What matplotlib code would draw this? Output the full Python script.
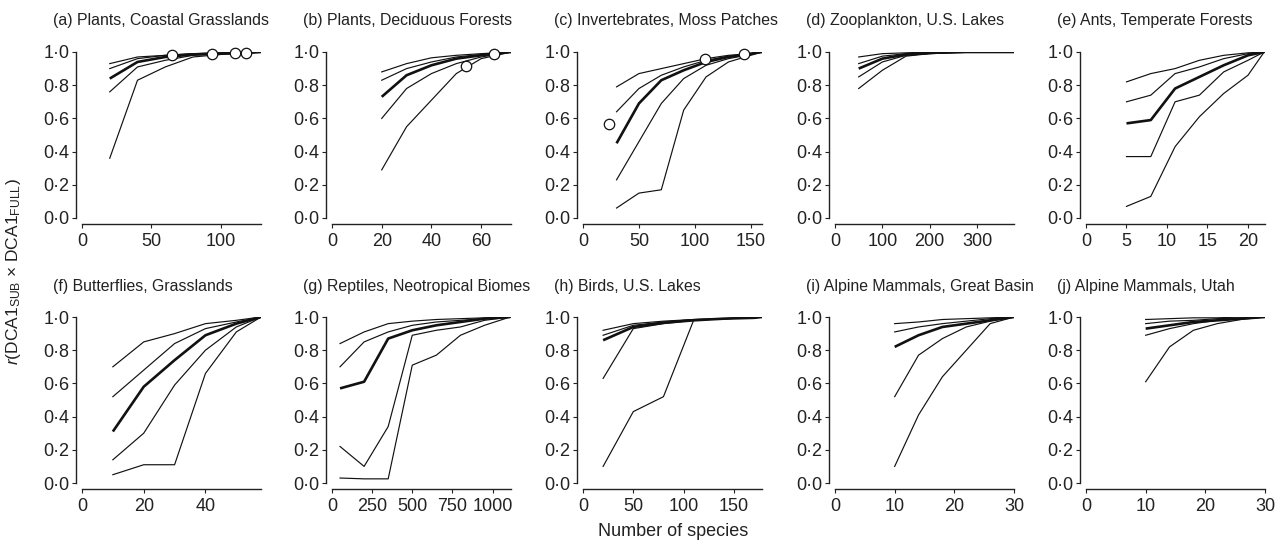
import matplotlib
matplotlib.use('Agg')
import matplotlib.pyplot as plt
from matplotlib.ticker import FuncFormatter

plt.rcParams['font.family'] = ['Liberation Sans', 'DejaVu Sans']
plt.rcParams['mathtext.fontset'] = 'custom'
plt.rcParams['mathtext.rm'] = 'Liberation Sans'
plt.rcParams['mathtext.it'] = 'Liberation Sans:italic'

# data: x = number of species in subsample, five lines per panel (thick one is the 3rd)
a_x = [20, 40, 60, 80, 100, 120, 129]
a_lines = [[0.93, 0.97, 0.98, 0.99, 0.995, 1.0, 1.0],
           [0.90, 0.96, 0.98, 0.99, 0.995, 1.0, 1.0],
           [0.84, 0.94, 0.97, 0.985, 0.99, 0.995, 1.0],
           [0.76, 0.91, 0.95, 0.98, 0.99, 0.995, 1.0],
           [0.36, 0.83, 0.91, 0.97, 0.985, 0.995, 1.0]]
a_px = [65, 94, 110, 118]
a_py = [0.98, 0.99, 0.995, 0.995]

b_x = [20, 30, 40, 50, 60, 72]
b_lines = [[0.88, 0.93, 0.965, 0.98, 0.99, 1.0],
           [0.83, 0.90, 0.94, 0.97, 0.985, 1.0],
           [0.73, 0.86, 0.92, 0.96, 0.98, 1.0],
           [0.60, 0.78, 0.87, 0.93, 0.97, 1.0],
           [0.29, 0.55, 0.71, 0.87, 0.96, 1.0]]
b_px = [54, 65]
b_py = [0.915, 0.985]

c_x = [30, 50, 70, 90, 110, 130, 150, 160]
c_lines = [[0.79, 0.87, 0.90, 0.93, 0.96, 0.98, 0.99, 1.0],
           [0.64, 0.78, 0.86, 0.91, 0.95, 0.975, 0.99, 1.0],
           [0.45, 0.69, 0.83, 0.89, 0.94, 0.97, 0.99, 1.0],
           [0.23, 0.46, 0.69, 0.84, 0.92, 0.96, 0.985, 1.0],
           [0.06, 0.15, 0.17, 0.65, 0.85, 0.94, 0.98, 1.0]]
c_px = [23, 109, 144]
c_py = [0.565, 0.96, 0.99]

d_x = [50, 100, 150, 200, 250, 300, 350, 378]
d_lines = [[0.97, 0.99, 0.995, 1.0, 1.0, 1.0, 1.0, 1.0],
           [0.93, 0.975, 0.99, 0.995, 1.0, 1.0, 1.0, 1.0],
           [0.90, 0.96, 0.985, 0.995, 1.0, 1.0, 1.0, 1.0],
           [0.85, 0.94, 0.98, 0.99, 0.995, 1.0, 1.0, 1.0],
           [0.78, 0.89, 0.975, 0.99, 0.995, 1.0, 1.0, 1.0]]

e_x = [5, 8, 11, 14, 17, 20, 22]
e_lines = [[0.82, 0.87, 0.90, 0.95, 0.98, 0.995, 1.0],
           [0.70, 0.74, 0.87, 0.91, 0.96, 0.99, 1.0],
           [0.57, 0.59, 0.78, 0.85, 0.92, 0.98, 1.0],
           [0.37, 0.37, 0.70, 0.74, 0.88, 0.95, 1.0],
           [0.07, 0.13, 0.43, 0.61, 0.75, 0.86, 1.0]]

f_x = [10, 20, 30, 40, 50, 58]
f_lines = [[0.70, 0.85, 0.90, 0.96, 0.98, 1.0],
           [0.52, 0.68, 0.84, 0.93, 0.97, 1.0],
           [0.31, 0.58, 0.74, 0.89, 0.96, 1.0],
           [0.14, 0.30, 0.59, 0.80, 0.94, 1.0],
           [0.05, 0.11, 0.11, 0.66, 0.91, 1.0]]

g_x = [50, 200, 350, 500, 650, 800, 950, 1110]
g_lines = [[0.84, 0.91, 0.96, 0.975, 0.985, 0.99, 0.995, 1.0],
           [0.70, 0.85, 0.91, 0.95, 0.97, 0.98, 0.99, 1.0],
           [0.57, 0.61, 0.87, 0.92, 0.95, 0.97, 0.99, 1.0],
           [0.22, 0.10, 0.34, 0.89, 0.92, 0.94, 0.98, 1.0],
           [0.03, 0.025, 0.025, 0.71, 0.77, 0.89, 0.95, 1.0]]

h_x = [20, 50, 80, 110, 140, 170, 178]
h_lines = [[0.92, 0.96, 0.975, 0.985, 0.99, 0.995, 1.0],
           [0.89, 0.95, 0.97, 0.985, 0.99, 0.995, 1.0],
           [0.86, 0.94, 0.965, 0.98, 0.99, 0.995, 1.0],
           [0.63, 0.93, 0.96, 0.98, 0.99, 0.995, 1.0],
           [0.10, 0.43, 0.52, 0.98, 0.99, 0.995, 1.0]]

i_x = [10, 14, 18, 22, 26, 30]
i_lines = [[0.96, 0.97, 0.985, 0.99, 0.995, 1.0],
           [0.91, 0.94, 0.96, 0.975, 0.99, 1.0],
           [0.82, 0.89, 0.94, 0.96, 0.98, 1.0],
           [0.52, 0.77, 0.87, 0.94, 0.975, 1.0],
           [0.10, 0.41, 0.64, 0.80, 0.96, 1.0]]

j_x = [10, 14, 18, 22, 26, 30]
j_lines = [[0.985, 0.99, 0.995, 0.995, 1.0, 1.0],
           [0.96, 0.975, 0.98, 0.99, 0.995, 1.0],
           [0.93, 0.95, 0.97, 0.98, 0.99, 1.0],
           [0.89, 0.93, 0.96, 0.98, 0.99, 1.0],
           [0.61, 0.82, 0.92, 0.96, 0.985, 1.0]]

titles = ['(a) Plants, Coastal Grasslands', '(b) Plants, Deciduous Forests',
          '(c) Invertebrates, Moss Patches', '(d) Zooplankton, U.S. Lakes',
          '(e) Ants, Temperate Forests', '(f) Butterflies, Grasslands',
          '(g) Reptiles, Neotropical Biomes', '(h) Birds, U.S. Lakes',
          '(i) Alpine Mammals, Great Basin', '(j) Alpine Mammals, Utah']
xmaxs = [129, 72, 160, 378, 22.1, 58, 1115, 178, 30, 30]
xtick_sets = [[0, 50, 100], [0, 20, 40, 60], [0, 50, 100, 150], [0, 100, 200, 300],
              [0, 5, 10, 15, 20], [0, 20, 40], [0, 250, 500, 750, 1000],
              [0, 50, 100, 150], [0, 10, 20, 30], [0, 10, 20, 30]]

xs = [a_x, b_x, c_x, d_x, e_x, f_x, g_x, h_x, i_x, j_x]
ys = [a_lines, b_lines, c_lines, d_lines, e_lines, f_lines, g_lines, h_lines, i_lines, j_lines]
pts = {0: (a_px, a_py), 1: (b_px, b_py), 2: (c_px, c_py)}

W, H = 1282, 544
fig = plt.figure(figsize=(W / 100, H / 100), dpi=100)

lefts = [82, 332, 583, 835, 1086]
tops = [52, 317]
aw, ah = 179, 166

dot = FuncFormatter(lambda v, p: f'{v:.1f}'.replace('.', '\u00b7'))

for k in range(10):
    r, c = divmod(k, 5)
    ax = fig.add_axes([lefts[c] / W, (H - tops[r] - ah) / H, aw / W, ah / H])
    x = xs[k]
    for n, line in enumerate(ys[k]):
        if n == 2:
            ax.plot(x, line, color='#111111', lw=1.9, solid_capstyle='butt', zorder=3)
        else:
            ax.plot(x, line, color='#111111', lw=0.85, zorder=2)
    if k in pts:
        ax.plot(pts[k][0], pts[k][1], 'o', ms=7.5, mfc='white', mec='#111111',
                mew=0.9, zorder=5, clip_on=False)
    ax.set_xlim(0, xmaxs[k])
    ax.set_ylim(0, 1)
    ax.set_xticks(xtick_sets[k])
    ax.set_yticks([0, 0.2, 0.4, 0.6, 0.8, 1.0])
    ax.yaxis.set_major_formatter(dot)
    for s in ['top', 'right']:
        ax.spines[s].set_visible(False)
    for s in ['left', 'bottom']:
        ax.spines[s].set_position(('outward', 4))
        ax.spines[s].set_linewidth(1.0)
        ax.spines[s].set_color('#222222')
    ax.tick_params(direction='out', length=3, width=0.8, labelsize=13,
                   colors='#222222', pad=2)
    ax.tick_params(axis='x', pad=4)
    ax.text(-29 / aw, 1 + 31 / ah, titles[k], transform=ax.transAxes, fontsize=11.4,
            ha='left', va='center', color='#222222')

fig.text(14 / W, 1 - 272 / H,
         r'$r$(DCA1$_{\mathrm{SUB}}$ $\times$ DCA1$_{\mathrm{FULL}}$)',
         rotation=90, ha='center', va='center', fontsize=12.5, color='#222222')
fig.text(673 / W, 1 - 532 / H, 'Number of species', ha='center', va='center',
         fontsize=13, color='#222222')

fig.savefig('out.png', dpi=100)
